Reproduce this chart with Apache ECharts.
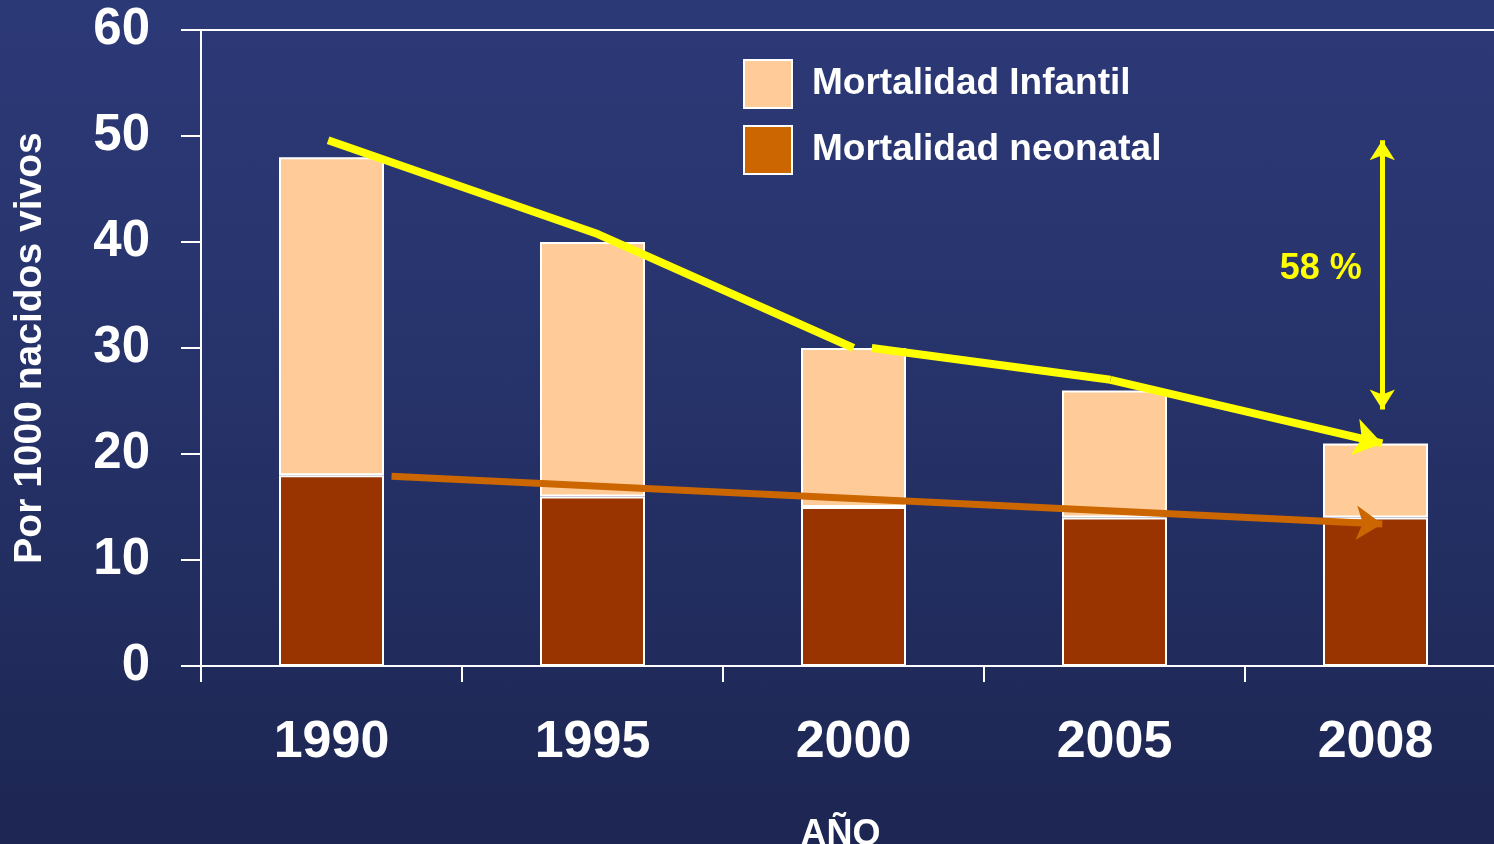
<!DOCTYPE html>
<html>
<head>
<meta charset="utf-8">
<script src="https://cdn.jsdelivr.net/npm/echarts@6/dist/echarts.min.js"></script>
<style>
html,body{margin:0;padding:0;width:1494px;height:844px;overflow:hidden;}
body{background:linear-gradient(180deg,#2c3977 0%,#27346c 40%,#1d2652 100%);}
#c{width:1494px;height:844px;}
</style>
</head>
<body>
<div id="c"></div>
<script>
const years = ['1990', '1995', '2000', '2005', '2008'];
const neonatal = [18, 16, 15, 14, 14];
const infantilAbove = [30, 24, 15, 12, 7];   // infantil total 48,40,30,26,21 minus neonatal
const yTicks = [0, 10, 20, 30, 40, 50, 60];
// annotation paths in [category position, value]
const yellowA = [[-0.013, 49.6], [1.02, 40.75], [2.0, 30.0]];
const yellowB = [[2.07, 30.0], [2.985, 27.0]];
const yellowArrow = [[2.985, 27.0], [4.026, 21.0]];
const orangeArrow = [[0.23, 17.9], [4.026, 13.4]];
const gapArrow = [[4.026, 49.6], [4.026, 24.2]];
const gapLabel = {pos: [3.79, 37.4], text: '58 %'};

const FONT = '"Liberation Sans", Arial, sans-serif';
const chart = echarts.init(document.getElementById('c'), null, {renderer: 'canvas'});
chart.setOption({
  backgroundColor: 'transparent',
  animation: false,
  textStyle: {fontFamily: FONT},
  grid: {left: 201, top: 30, right: -12, bottom: 178, containLabel: false, outerBoundsMode: 'none'},
  legend: {
    orient: 'vertical', left: 743, top: 59, padding: 0,
    itemWidth: 48, itemHeight: 48, itemGap: 16,
    icon: 'rect',
    textStyle: {color: '#fff', fontSize: 37, fontWeight: 'bold', fontFamily: FONT, padding: [0, 0, 10, 15]},
    data: [
      {name: 'Mortalidad Infantil', itemStyle: {color: '#FFCC99', borderColor: '#fff', borderWidth: 2}},
      {name: 'Mortalidad neonatal', itemStyle: {color: '#CC6600', borderColor: '#fff', borderWidth: 2}}
    ],
    selectedMode: false
  },
  xAxis: [{
    type: 'category', data: years, position: 'bottom',
    axisLine: {onZero: false, lineStyle: {color: '#fff', width: 2}},
    axisTick: {show: true, length: 16, lineStyle: {color: '#fff', width: 2}},
    axisLabel: {color: '#fff', fontSize: 52, fontWeight: 'bold', margin: 51, fontFamily: FONT},
    name: 'AÑO', nameLocation: 'middle', nameGap: 151,
    nameTextStyle: {color: '#fff', fontSize: 36, fontWeight: 'bold', fontFamily: FONT, padding: [0, 26, 0, 0]}
  }, {
    type: 'value', position: 'top', min: -0.5, max: 4.5,
    axisLine: {show: true, onZero: false, lineStyle: {color: '#fff', width: 2}},
    axisTick: {show: false}, axisLabel: {show: false}, splitLine: {show: false}
  }],
  yAxis: {
    type: 'value', min: 0, max: 60, interval: 10,
    axisLine: {show: true, onZero: false, lineStyle: {color: '#fff', width: 2}},
    axisTick: {show: true, length: 20, lineStyle: {color: '#fff', width: 2}},
    axisLabel: {color: '#fff', fontSize: 51, fontWeight: 'bold', margin: 51, fontFamily: FONT,
      formatter: v => yTicks.includes(v) ? String(v) : ''},
    splitLine: {show: false},
    name: 'Por 1000 nacidos vivos', nameLocation: 'middle', nameGap: 151, nameRotate: 90,
    nameTextStyle: {color: '#fff', fontSize: 39, fontWeight: 'bold', fontFamily: FONT}
  },
  series: [
    {
      name: 'Mortalidad neonatal', type: 'bar', stack: 'm', data: neonatal,
      barWidth: 105,
      itemStyle: {color: '#993300', borderColor: '#fff', borderWidth: 2},
      z: 2
    },
    {
      name: 'Mortalidad Infantil', type: 'bar', stack: 'm', data: infantilAbove,
      barWidth: 105,
      itemStyle: {color: '#FFCC99', borderColor: '#fff', borderWidth: 2},
      z: 2
    },
    {
      name: 'tendA', type: 'line', xAxisIndex: 1, data: yellowA,
      symbol: 'none', lineStyle: {color: '#FFFF00', width: 8}, z: 5, silent: true
    },
    {
      name: 'tendB', type: 'line', xAxisIndex: 1, data: yellowB,
      symbol: 'none', lineStyle: {color: '#FFFF00', width: 8}, z: 5, silent: true,
      markLine: {
        silent: true, animation: false,
        label: {show: false},
        data: [
          [{coord: yellowArrow[0], symbol: 'none', lineStyle: {color: '#FFFF00', width: 8, type: 'solid'}},
           {coord: yellowArrow[1], symbol: 'arrow', symbolSize: [28, 28]}],
          [{coord: orangeArrow[0], symbol: 'none', lineStyle: {color: '#CC6600', width: 7, type: 'solid'}},
           {coord: orangeArrow[1], symbol: 'arrow', symbolSize: [26, 26]}],
          [{coord: gapArrow[0], symbol: 'arrow', symbolSize: [19, 20], lineStyle: {color: '#FFFF00', width: 5, type: 'solid'}},
           {coord: gapArrow[1], symbol: 'arrow', symbolSize: [19, 20]}]
        ]
      },
      markPoint: {
        silent: true, symbol: 'circle', symbolSize: 0,
        label: {show: true, color: '#FFFF00', fontSize: 36, fontWeight: 'bold', fontFamily: FONT,
          formatter: gapLabel.text, position: 'inside'},
        data: [{coord: gapLabel.pos}]
      }
    }
  ]
});
</script>
</body>
</html>
